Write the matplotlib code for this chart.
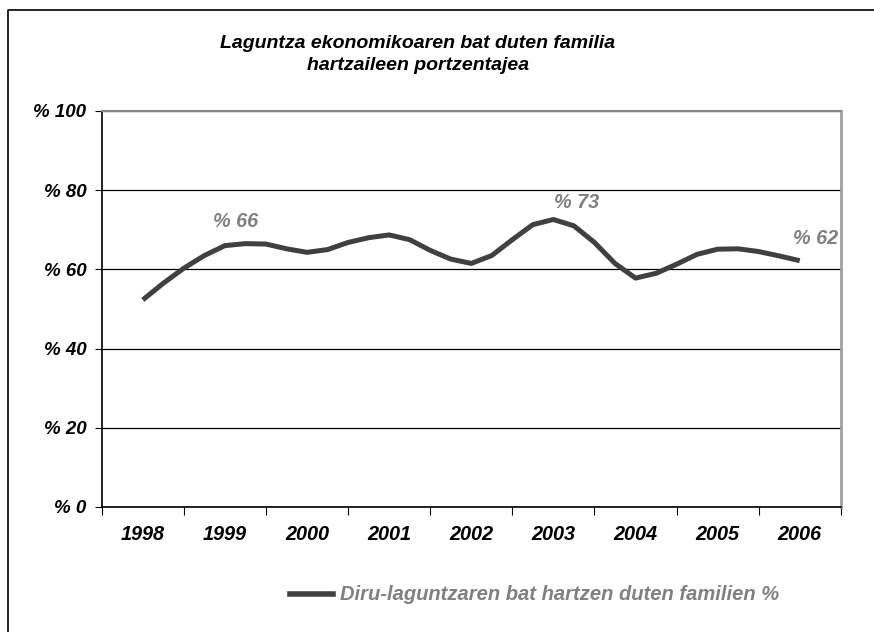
import numpy as np
import matplotlib.pyplot as plt
from matplotlib.lines import Line2D

# urteak eta balioak (hiruhilekoka irakurrita)
years = ['1998', '1999', '2000', '2001', '2002', '2003', '2004', '2005', '2006']
t_pos = [0, 0.25, 0.5, 0.75, 1, 1.25, 1.5, 1.75, 2, 2.25, 2.5, 2.75, 3, 3.25, 3.5, 3.75,
         4, 4.25, 4.5, 4.75, 5, 5.25, 5.5, 5.75, 6, 6.25, 6.5, 6.75, 7, 7.25, 7.5, 7.75, 8]
values = [52.3, 56.5, 60.3, 63.5, 66.0, 66.5, 66.4, 65.2, 64.3, 65.0, 66.8, 68.0, 68.7,
          67.5, 64.8, 62.6, 61.5, 63.5, 67.5, 71.3, 72.6, 71.0, 66.8, 61.5, 57.8, 59.0,
          61.3, 63.8, 65.1, 65.2, 64.5, 63.4, 62.2]
labels = [(1.13, 72.2, '% 66'), (5.28, 77.0, '% 73'), (8.19, 67.8, '% 62')]
legend_label = 'Diru-laguntzaren bat hartzen duten familien %'
title = 'Laguntza ekonomikoaren bat duten familia\nhartzaileen portzentajea'

plt.rcParams['font.family'] = ['Liberation Sans', 'DejaVu Sans']

fig = plt.figure(figsize=(8.74, 6.32), dpi=100)
ax = fig.add_axes([0.1164, 0.1978, 0.8456, 0.6266])

ax.plot(t_pos, values, color='#404040', lw=3.6, solid_joinstyle='round', solid_capstyle='butt')

for x, y, s in labels:
    ax.text(x, y, s, color='#808080', fontsize=14.3, fontweight='bold',
            style='italic', ha='center', va='center')

ax.set_xlim(-0.5, 8.5)
ax.set_ylim(0, 100)
ax.set_yticks([0, 20, 40, 60, 80, 100])
ax.set_yticklabels(['% 0', '% 20', '% 40', '% 60', '% 80', '% 100'],
                   fontsize=13.5, fontweight='bold', style='italic')
ax.yaxis.grid(True, color='black', lw=0.9)
ax.set_axisbelow(True)

# tick marks between categories, labels at centres
ax.set_xticks(np.arange(-0.5, 9, 1))
ax.set_xticklabels([])
ax.set_xticks(np.arange(9), minor=True)
ax.set_xticklabels(years, minor=True, fontsize=14.3, fontweight='bold', style='italic')
ax.tick_params(axis='x', which='major', length=6, direction='out', color='black')
ax.tick_params(axis='x', which='minor', length=0, pad=13)
ax.tick_params(axis='y', length=5, direction='out', pad=6)

ax.spines['left'].set_color('black')
ax.spines['bottom'].set_color('black')
ax.spines['left'].set_linewidth(1.2)
ax.spines['bottom'].set_linewidth(1.2)
ax.spines['top'].set_color('#888888')
ax.spines['right'].set_color('#a0a0a0')
ax.spines['top'].set_linewidth(1.5)
ax.spines['right'].set_linewidth(2)

fig.text(0.478, 1 - 35 / 632, title, ha='center', va='top', fontsize=14, fontweight='bold',
         style='italic', linespacing=1.35)

# legend drawn by hand
fig.add_artist(Line2D([290 / 874, 333 / 874], [1 - 594 / 632, 1 - 594 / 632],
                      color='#404040', lw=4))
fig.text(340 / 874, 1 - 594 / 632, legend_label, ha='left', va='center', fontsize=14.5,
         fontweight='bold', style='italic', color='#808080')

# outer frame
fig.add_artist(Line2D([8 / 874, 8 / 874, 1], [0, 1 - 10 / 632, 1 - 10 / 632],
                      color='black', lw=1.2))

fig.savefig('out.png', dpi=100)
